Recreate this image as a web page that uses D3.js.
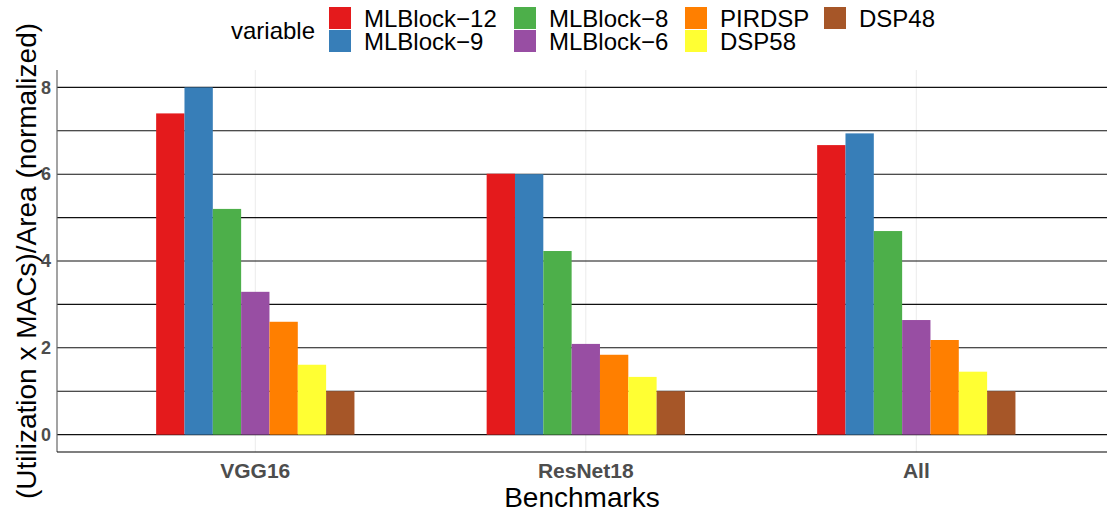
<!DOCTYPE html>
<html>
<head>
<meta charset="utf-8">
<script src="https://cdn.jsdelivr.net/npm/d3@7"></script>
<style>
  html, body { margin: 0; padding: 0; background: #fff; }
  svg { display: block; font-family: "Liberation Sans", Arial, sans-serif; }
</style>
</head>
<body>
<svg id="chart" width="1107" height="516"></svg>
<script>
const categories = ["VGG16", "ResNet18", "All"];
const seriesNames = ["MLBlock\u221212", "MLBlock\u22129", "MLBlock\u22128", "MLBlock\u22126", "PIRDSP", "DSP58", "DSP48"];
const mlblock12 = [7.40, 6.01, 6.67];
const mlblock9  = [8.00, 6.00, 6.94];
const mlblock8  = [5.20, 4.23, 4.69];
const mlblock6  = [3.29, 2.09, 2.64];
const pirdsp    = [2.60, 1.84, 2.18];
const dsp58     = [1.61, 1.33, 1.45];
const dsp48     = [1.00, 1.00, 1.00];
const seriesColors = ["#E41A1C", "#377EB8", "#4DAF4A", "#984EA3", "#FF7F00", "#FFFF33", "#A65628"];
const yTicks = [0, 2, 4, 6, 8];
const yMinor = [1, 3, 5, 7];
const legendTitle = "variable";
const xTitle = "Benchmarks";
const yTitle = "(Utilization x MACs)/Area (normalized)";

const seriesValues = [mlblock12, mlblock9, mlblock8, mlblock6, pirdsp, dsp58, dsp48];
const data = [];
categories.forEach((c, i) => {
  seriesNames.forEach((s, j) => data.push({ cat: c, series: s, value: seriesValues[j][i] }));
});

const svg = d3.select("#chart");
const panel = { left: 57, top: 70, bottom: 452 };
const step = 330.5;
const x = d3.scaleBand().domain(categories)
  .range([panel.left, panel.left + 3.2 * step])
  .paddingInner(0.4).paddingOuter(0.3);
const xInner = d3.scaleBand().domain(seriesNames).range([0, x.bandwidth()]).padding(0);
const y = d3.scaleLinear().domain([-0.4, 8.4]).range([panel.bottom, panel.top]);
const color = d3.scaleOrdinal().domain(seriesNames).range(seriesColors);

// vertical grid
svg.append("g").selectAll("line").data(categories).join("line")
  .attr("x1", d => x(d) + x.bandwidth() / 2).attr("x2", d => x(d) + x.bandwidth() / 2)
  .attr("y1", panel.top).attr("y2", panel.bottom)
  .attr("stroke", "#ebebeb").attr("stroke-width", 1);

// horizontal grid
svg.append("g").selectAll("line").data(yTicks.concat(yMinor)).join("line")
  .attr("x1", panel.left).attr("x2", 1107)
  .attr("y1", d => y(d)).attr("y2", d => y(d))
  .attr("stroke", "#111").attr("stroke-width", 1.1);

// bars
svg.append("g").selectAll("rect").data(data).join("rect")
  .attr("x", d => x(d.cat) + xInner(d.series))
  .attr("width", xInner.bandwidth())
  .attr("y", d => y(d.value))
  .attr("height", d => y(0) - y(d.value))
  .attr("fill", d => color(d.series));

// axis lines
svg.append("line").attr("x1", panel.left).attr("x2", panel.left)
  .attr("y1", panel.top).attr("y2", panel.bottom)
  .attr("stroke", "#666").attr("stroke-width", 1.2);
svg.append("line").attr("x1", panel.left).attr("x2", 1107)
  .attr("y1", panel.bottom).attr("y2", panel.bottom)
  .attr("stroke", "#000").attr("stroke-width", 1.2);

// y tick labels
svg.append("g").selectAll("text").data(yTicks).join("text")
  .attr("x", 51).attr("y", d => y(d)).attr("dy", "0.35em")
  .attr("text-anchor", "end").attr("font-weight", "bold")
  .attr("font-size", 18).attr("fill", "#4d4d4d")
  .text(d => d);

// x tick labels
svg.append("g").selectAll("text").data(categories).join("text")
  .attr("x", d => x(d) + x.bandwidth() / 2).attr("y", 478)
  .attr("text-anchor", "middle").attr("font-weight", "bold")
  .attr("font-size", 21).attr("fill", "#4d4d4d")
  .text(d => d);

// axis titles
svg.append("text").attr("x", 582).attr("y", 507)
  .attr("text-anchor", "middle").attr("font-size", 28).attr("fill", "#000")
  .text(xTitle);
svg.append("text").attr("transform", "translate(36,261) rotate(-90)")
  .attr("text-anchor", "middle").attr("font-size", 28).attr("fill", "#000")
  .text(yTitle);

// legend
const legend = svg.append("g");
legend.append("text").attr("x", 231).attr("y", 39).attr("font-size", 24).attr("fill", "#000").text(legendTitle);
const colX = [329, 514, 685, 824];
const items = seriesNames.map((s, i) => ({ s, col: Math.floor(i / 2), row: i % 2 }));
const li = legend.selectAll("g.item").data(items).join("g").attr("class", "item")
  .attr("transform", d => `translate(${colX[d.col]},${7 + d.row * 23})`);
li.append("rect").attr("width", 22).attr("height", 22).attr("fill", d => color(d.s));
li.append("text").attr("x", 35).attr("y", 20).attr("font-size", 24).attr("fill", "#000").text(d => d.s);
</script>
</body>
</html>
